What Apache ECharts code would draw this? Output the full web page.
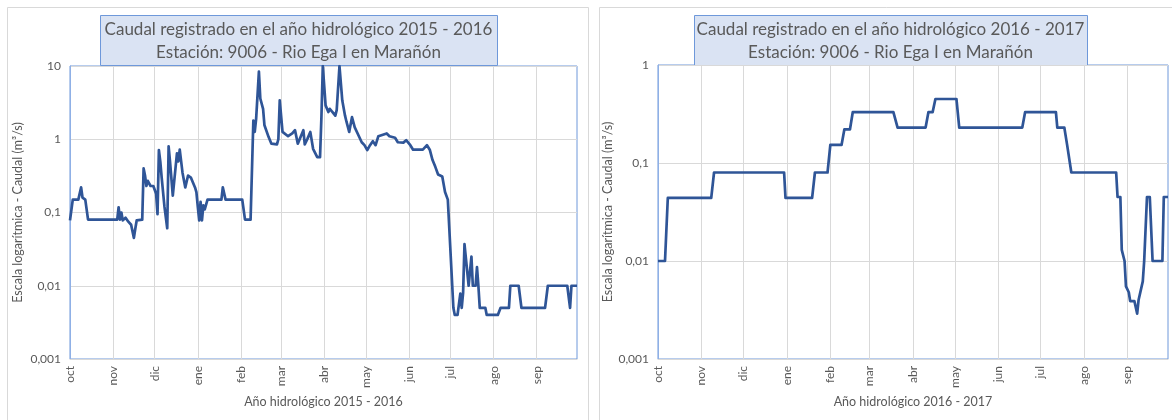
<!DOCTYPE html>
<html><head><meta charset="utf-8">
<script src="https://cdn.jsdelivr.net/npm/echarts/dist/echarts.min.js"></script>
<style>html,body{margin:0;padding:0;background:#fff}#c{width:1172px;height:420px}</style>
</head><body><div id="c"></div>
<script>
// Month abbreviations (Spanish), indexed by calendar month 1..12
const MONTHS = ['ene','feb','mar','abr','may','jun','jul','ago','sep','oct','nov','dic'];
// Y tick labels by decade exponent
const Y_TICKS = {'-3':'0,001','-2':'0,01','-1':'0,1','0':'1','1':'10'};

const TITLE_A = ['Caudal registrado en el año hidrológico 2015 - 2016', 'Estación: 9006 - Rio Ega I en Marañón'];
const TITLE_B = ['Caudal registrado en el año hidrológico 2016 - 2017', 'Estación: 9006 - Rio Ega I en Marañón'];
const XNAME_A = 'Año hidrológico 2015 - 2016';
const XNAME_B = 'Año hidrológico 2016 - 2017';
const YNAME = 'Escala logarítmica - Caudal (m³/s)';

// 2015-2016: day offset from 1 Oct 2015, flow (m3/s)
const DAYS_A = [0,2,6,8,9,11,13,34,35,36,37,38,40,42,44,46,47,48,52,53,54,55,56,58,60,62,63,64,65,66,68,70,71,72,74,77,78,79,81,83,85,87,90,91,92,93,94,95,96,97,99,109,110,112,124,126,130,132,133,134,136,137,139,140,141,143,145,149,150,151,153,157,160,162,164,168,169,171,173,175,178,180,181,182,184,186,187,189,191,192,194,196,198,199,201,203,205,208,210,212,214,216,218,220,222,228,230,234,236,240,242,245,247,254,257,259,261,263,265,268,270,272,273,276,277,279,280,281,282,283,284,285,287,289,290,292,293,294,295,299,300,308,310,316,317,323,325,342,344,358,360,361,365];
const FLOW_A = [0.078,0.15,0.15,0.22,0.16,0.15,0.08,0.08,0.118,0.08,0.1,0.078,0.085,0.075,0.068,0.045,0.06,0.078,0.08,0.40,0.32,0.23,0.27,0.23,0.23,0.18,0.095,0.71,0.5,0.3,0.12,0.061,0.80,0.5,0.17,0.64,0.5,0.72,0.35,0.22,0.32,0.3,0.22,0.19,0.12,0.078,0.14,0.078,0.125,0.11,0.15,0.15,0.22,0.15,0.15,0.08,0.08,1.8,1.26,1.9,8.4,3.6,2.6,1.55,1.5,1.07,0.87,0.85,1.0,3.4,1.26,1.1,1.2,1.33,0.87,1.33,0.85,1.02,1.26,0.74,0.57,0.57,2.0,10,2.9,2.35,2.6,2.35,2.1,2.5,10,3.4,2.1,1.75,1.26,2.0,1.45,1.1,0.91,0.83,0.71,0.83,0.94,0.83,1.1,1.2,1.1,1.05,0.91,0.9,0.97,0.83,0.72,0.72,0.83,0.72,0.52,0.42,0.33,0.31,0.19,0.15,0.15,0.005,0.004,0.004,0.0056,0.0078,0.005,0.008,0.037,0.037,0.01,0.025,0.01,0.01,0.018,0.01,0.005,0.005,0.004,0.004,0.005,0.005,0.01,0.01,0.005,0.005,0.01,0.01,0.005,0.01,0.01];

// 2016-2017: day offset from 1 Oct 2016, flow (m3/s)
const DAYS_B = [0,5,7,38,40,90,91,110,112,121,123,131,133,137,139,168,171,191,193,196,198,213,215,260,262,284,285,290,292,293,295,327,328,330,331,333,334,336,337,340,342,343,344,346,347,349,351,353,360,361,364];
const FLOW_B = [0.01,0.01,0.044,0.044,0.08,0.08,0.044,0.044,0.08,0.08,0.153,0.153,0.22,0.22,0.33,0.33,0.23,0.23,0.33,0.33,0.45,0.45,0.23,0.23,0.33,0.33,0.23,0.23,0.153,0.15,0.08,0.08,0.045,0.045,0.013,0.01,0.0055,0.0048,0.0039,0.0039,0.0029,0.004,0.004,0.0062,0.01,0.045,0.045,0.01,0.01,0.045,0.045];

function dayCats(y) {
  const out = []; const d = new Date(Date.UTC(y, 9, 1)); const end = Date.UTC(y + 1, 8, 30);
  while (d.getTime() <= end) { out.push(d.toISOString().slice(0, 10)); d.setUTCDate(d.getUTCDate() + 1); }
  return out;
}
const CATS_A = dayCats(2015);
const CATS_B = dayCats(2016);

const GRAY = '#595959', GRID = '#d9d9d9', BLUE = '#6E98DA', LINE = '#2F5597';
const FONT = 'Lato, "Open Sans", sans-serif';
const isMonthStart = (i, v) => v.slice(8) === '01';

function xAxis(g, cats, name) {
  return {
    type: 'category', gridIndex: g, data: cats, boundaryGap: false,
    axisTick: {show: false},
    axisLine: {show: true, lineStyle: {color: GRID}},
    axisLabel: {interval: isMonthStart, rotate: 90, color: GRAY, fontSize: 12, fontFamily: FONT, margin: 7,
      formatter: v => MONTHS[parseInt(v.slice(5, 7), 10) - 1]},
    splitLine: {show: true, interval: (i, v) => i > 0 && v.slice(8) === '01', lineStyle: {color: GRID, width: 1}},
    name: name, nameLocation: 'middle', nameGap: 36,
    nameTextStyle: {color: GRAY, fontSize: 12.5, fontFamily: FONT}
  };
}
function yAxis(g, max, gap) {
  return {
    type: 'log', logBase: 10, gridIndex: g, min: 0.001, max: max,
    axisLine: {show: true, lineStyle: {color: '#8FB0E6'}},
    axisTick: {show: false},
    splitLine: {show: true, lineStyle: {color: GRID}},
    axisLabel: {color: GRAY, fontSize: 12, fontFamily: FONT, margin: 9,
      formatter: v => Y_TICKS[String(Math.round(Math.log10(v)))]},
    name: YNAME, nameLocation: 'middle', nameGap: gap, nameRotate: 90,
    nameTextStyle: {color: GRAY, fontSize: 12.5, fontFamily: FONT}
  };
}
function series(i, days, flows) {
  return {
    type: 'line', xAxisIndex: i, yAxisIndex: i, showSymbol: false, symbol: 'none',
    data: days.map((d, k) => [d, flows[k]]),
    lineStyle: {color: LINE, width: 2.7, join: 'round'}, itemStyle: {color: LINE},
    clip: true, animation: false
  };
}
function titleBox(x, w, lines) {
  return {
    type: 'group', children: [
      {type: 'rect', shape: {x: x + 0.5, y: 15.5, width: w, height: 50},
        style: {fill: '#DAE3F3', stroke: BLUE, lineWidth: 1}},
      {type: 'text', x: x + w / 2, y: 41,
        style: {text: lines.join('\n'), align: 'center', verticalAlign: 'middle',
          font: '17px ' + FONT, fill: GRAY, lineHeight: 23}}
    ], z: 20
  };
}

const chart = echarts.init(document.getElementById('c'), null, {renderer: 'canvas'});
chart.setOption({
  animation: false,
  backgroundColor: '#fff',
  grid: [
    {left: 70, top: 66, width: 507, height: 293, show: true, borderColor: BLUE, borderWidth: 1},
    {left: 658, top: 65, width: 510, height: 294, show: true, borderColor: BLUE, borderWidth: 1}
  ],
  xAxis: [xAxis(0, CATS_A, XNAME_A), xAxis(1, CATS_B, XNAME_B)],
  yAxis: [yAxis(0, 10, 46), yAxis(1, 1, 40)],
  series: [series(0, DAYS_A, FLOW_A), series(1, DAYS_B, FLOW_B)],
  graphic: [
    {type: 'rect', shape: {x: 7.5, y: 7.5, width: 581, height: 440}, style: {fill: null, stroke: GRID, lineWidth: 1}, z: -1, silent: true},
    {type: 'rect', shape: {x: 599.5, y: 7.5, width: 600, height: 440}, style: {fill: null, stroke: GRID, lineWidth: 1}, z: -1, silent: true},
    titleBox(100, 397, TITLE_A),
    titleBox(694, 393, TITLE_B)
  ]
});
</script></body></html>
